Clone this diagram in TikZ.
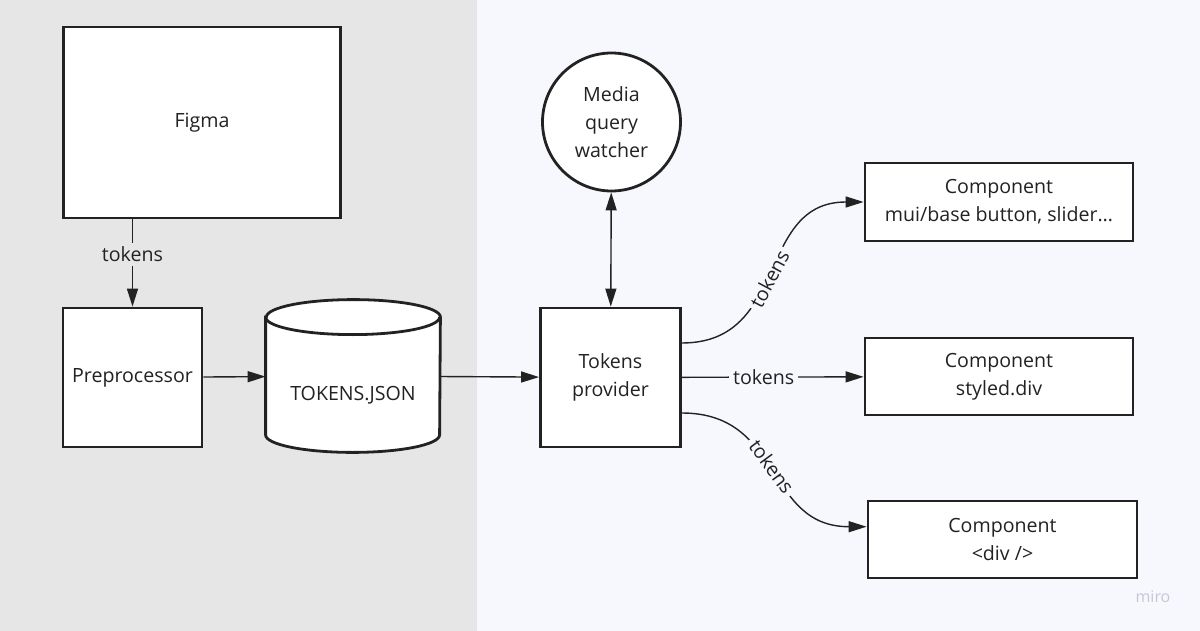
\documentclass[tikz,border=0pt]{standalone}
\usepackage{fontspec}
\setmainfont{Open Sans}
\usetikzlibrary{arrows.meta}
\definecolor{leftbg}{HTML}{E6E6E6}
\definecolor{rightbg}{HTML}{F7F8FD}
\definecolor{ink}{HTML}{222222}
\definecolor{mirogray}{HTML}{C5C7D6}

\begin{document}
\begin{tikzpicture}[x=0.5pt,y=-0.5pt,
	every node/.style={text=ink,font=\fontsize{9.8pt}{14pt}\selectfont},
	box/.style={draw=ink,line width=1.4pt,fill=white,align=center,inner sep=0pt},
	arr/.style={-{Triangle[length=9pt,width=5.5pt]},line width=0.7pt,color=ink},
	arrboth/.style={{Triangle[length=9pt,width=5.5pt]}-{Triangle[length=9pt,width=5.5pt]},line width=0.7pt,color=ink},
	lbl/.style={fill=#1,inner sep=2pt}]
	
	% two panels
	\fill[leftbg] (0,0) rectangle (477,631);
	\fill[rightbg] (477,0) rectangle (1200,631);
	\useasboundingbox (0,0) rectangle (1200,631);
	
	\node[box,minimum width=138.5pt,minimum height=95.5pt] (fig) at (202,122.5) {Figma};
	\node[box,minimum width=69.5pt,minimum height=69.5pt] (pre) at (132.5,377.5) {Preprocessor};
	\node[inner sep=0pt,minimum width=87pt,minimum height=76pt] (json) at (353,376) {};
	\node[box,minimum width=70pt,minimum height=69.5pt] (prov) at (610.5,377.5) {Tokens\\provider};
	\node[box,circle,minimum size=69pt] (mqw) at (611.5,122) {Media\\query\\watcher};
	\node[box,minimum width=134pt,minimum height=39pt] (c1) at (999,202) {Component\\mui/base button, slider…};
	\node[box,minimum width=134pt,minimum height=38.5pt] (c2) at (999,376.5) {Component\\styled.div};
	\node[box,minimum width=134.5pt,minimum height=38.5pt] (c3) at (1002.5,539.5) {Component\\<div />};
	\node[text=mirogray,font=\fontsize{8pt}{9pt}\selectfont] (miro) at (1153,597) {miro};
	
	% the cylinder round json
	\draw[draw=ink,line width=1.4pt,fill=white]
		([yshift=-8.75pt]json.north west) -- ([yshift=8.75pt]json.south west)
		arc (180:360:43.5pt and 8.75pt) -- ([yshift=-8.75pt]json.north east)
		arc (0:180:43.5pt and 8.75pt) -- cycle;
	\draw[draw=ink,line width=1.4pt] ([yshift=-8.75pt]json.north west) arc (180:360:43.5pt and 8.75pt);
	\node (jsontext) at ([yshift=-9.5pt]json.center) {TOKENS.JSON};
	
	\path[arr] (fig.south -| pre.north) edge node[lbl=leftbg,pos=0.4] {tokens} (pre.north);
	\path[arr] (pre) edge (json);
	\path[arr] (json) edge (prov);
	\path[arrboth] (mqw) edge (prov);
	\path[arr] ([yshift=17.25pt]prov.east) edge[out=0,in=180,looseness=1.2] node[lbl=rightbg,sloped,pos=0.47] {tokens} (c1.west);
	\path[arr] (prov) edge node[lbl=rightbg,pos=0.45] {tokens} (c2);
	\path[arr] ([yshift=-17.75pt]prov.east) edge[out=0,in=180,looseness=1.2] node[lbl=rightbg,sloped,pos=0.48] {tokens} ([yshift=6.4pt]c3.west);
\end{tikzpicture}
\end{document}
